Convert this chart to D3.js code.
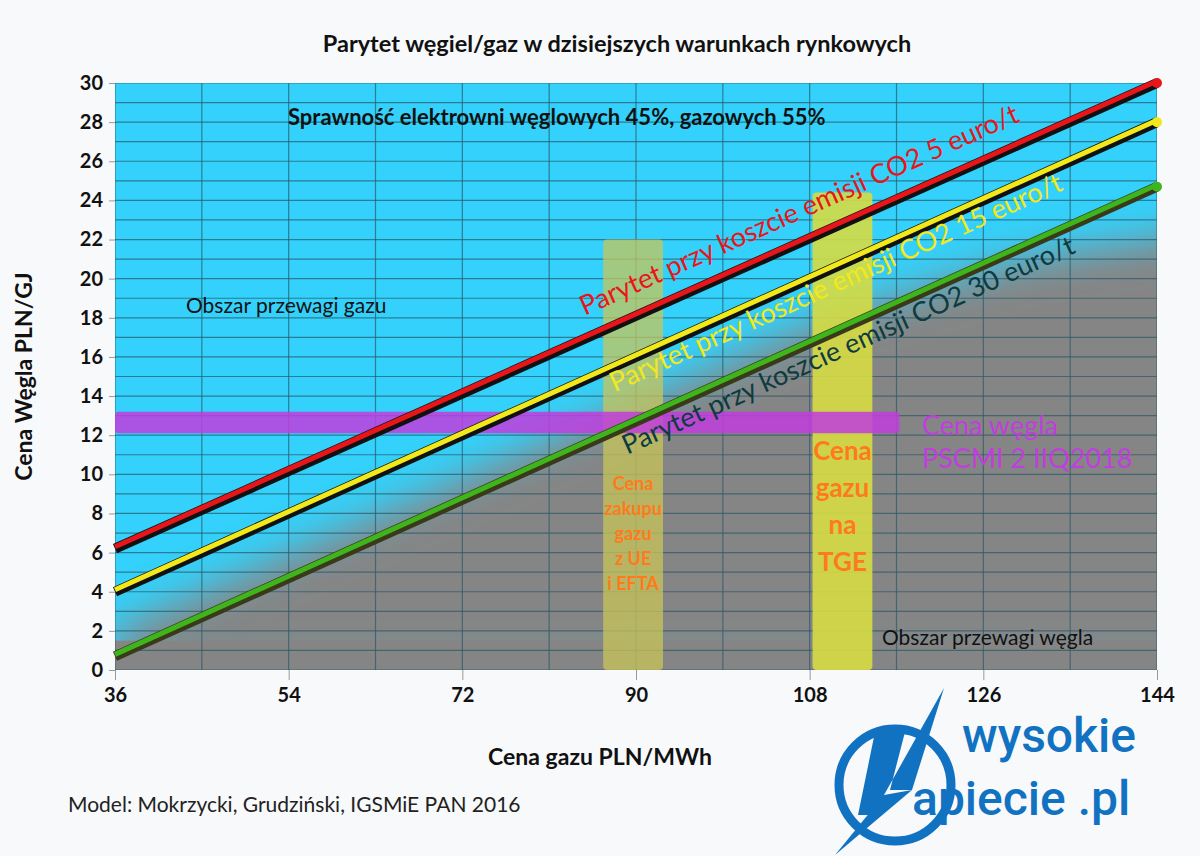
<!DOCTYPE html>
<html><head><meta charset="utf-8">
<script src="https://cdn.jsdelivr.net/npm/d3@7"></script>
<style>body{margin:0;background:#f8f9fb;font-family:Lato,"Open Sans",sans-serif}</style>
</head><body><svg id="c" width="1200" height="856"></svg>
<script>
// data
var xTicks = [36, 54, 72, 90, 108, 126, 144]
var yTicks = d3.range(0, 31, 2)
var lineNames = ['Parytet przy koszcie emisji CO2 5 euro/t', 'Parytet przy koszcie emisji CO2 15 euro/t', 'Parytet przy koszcie emisji CO2 30 euro/t']
var lineStart = [6.2, 4.0, 0.7]   // at 36 PLN/MWh
var lineEnd = [30, 28, 24.7]      // at 144 PLN/MWh
var lineColors = ['#e8161b', '#f2e81a', '#3fb51c']
var textColors = ['#e8161b', '#f2e81a', '#0e3b40']
var gasBands = [[86.6, 92.8, 22], [108.3, 114.5, 24.4]]
var coalBand = [36, 117.3, 12.1, 13.2]
var grayArea = [[36, 0], [36, 2.0], [80, 11.5], [110, 18.0], [130, 21.0], [150, 22.5], [150, 0]]

var svg = d3.select('#c')
var x = d3.scaleLinear().domain([36, 144]).range([115, 1157])
var y = d3.scaleLinear().domain([0, 30]).range([670, 83])

var defs = svg.append('defs')
defs.append('filter').attr('id', 'blur').attr('x', '-20%').attr('y', '-20%').attr('width', '140%').attr('height', '140%')
    .append('feGaussianBlur').attr('stdDeviation', 20)
defs.append('clipPath').attr('id', 'plot').append('rect')
    .attr('x', x(36)).attr('y', y(30)).attr('width', x(144) - x(36)).attr('height', y(0) - y(30))

var g = svg.append('g').attr('clip-path', 'url(#plot)')
g.append('rect').attr('x', x(36)).attr('y', y(30)).attr('width', x(144) - x(36)).attr('height', y(0) - y(30)).attr('fill', '#33d1fb')
g.append('path').datum(grayArea).attr('d', d3.line().x(d => x(d[0])).y(d => y(d[1])))
    .attr('fill', '#858585').attr('filter', 'url(#blur)')
g.append('rect').attr('x', x(36)).attr('y', y(1.5)).attr('width', x(144) - x(36)).attr('height', y(0) - y(1.5)).attr('fill', '#858585')

// grid
g.selectAll('.hg').data(d3.range(0, 31)).enter().append('line')
    .attr('x1', x(36)).attr('x2', x(144)).attr('y1', d => y(d)).attr('y2', d => y(d))
    .attr('stroke', '#2a5868').attr('stroke-opacity', 0.7).attr('stroke-width', 1.2)
g.selectAll('.vg').data(d3.range(36, 145, 9)).enter().append('line')
    .attr('y1', y(0)).attr('y2', y(30)).attr('x1', d => x(d)).attr('x2', d => x(d))
    .attr('stroke', '#2a5868').attr('stroke-opacity', 0.7).attr('stroke-width', 1.2)

// bands
g.selectAll('.gb').data(gasBands).enter().append('rect')
    .attr('x', d => x(d[0])).attr('width', d => x(d[1]) - x(d[0]))
    .attr('y', d => y(d[2])).attr('height', d => y(0) - y(d[2]))
    .attr('fill', (d, i) => i ? '#d6dc42' : '#c8c55a').attr('opacity', (d, i) => i ? 0.9 : 0.75).attr('rx', 4)
g.append('rect').attr('x', x(coalBand[0])).attr('width', x(coalBand[1]) - x(coalBand[0]))
    .attr('y', y(coalBand[3])).attr('height', y(coalBand[2]) - y(coalBand[3]))
    .attr('fill', '#c13ddd').attr('opacity', 0.85).attr('rx', 4)

// lines
var lines = d3.range(3).map(i => [[36, lineStart[i]], [144, lineEnd[i]]])
var lg = d3.line().x(d => x(d[0])).y(d => y(d[1]))
svg.selectAll('.lo').data(lines).enter().append('path').attr('d', lg)
    .attr('stroke', (d, i) => i == 2 ? '#3a3a1a' : '#111').attr('stroke-width', 10).attr('fill', 'none')
svg.selectAll('.li').data(lines).enter().append('path').attr('d', d => lg(d.map(p => [p[0], p[1] + 0.1])))
    .attr('stroke', (d, i) => lineColors[i]).attr('stroke-width', 5).attr('fill', 'none')
svg.selectAll('.dot').data(lines).enter().append('circle')
    .attr('cx', x(144)).attr('cy', d => y(d[1][1])).attr('r', 5).attr('fill', (d, i) => lineColors[i])

// line labels
var labelPos = [[84.7, 18.1], [87.8, 14.2], [89.1, 11.0]]
var ang = d => -Math.atan2(y(lineStart[d]) - y(lineEnd[d]), x(144) - x(36)) * 180 / Math.PI
svg.selectAll('.ll').data(lineNames).enter().append('text')
    .attr('transform', (d, i) => 'translate(' + x(labelPos[i][0]) + ',' + y(labelPos[i][1]) + ') rotate(' + ang(i) + ')')
    .attr('fill', (d, i) => textColors[i]).attr('font-size', 27).text(d => d)

// axes
var ya = svg.append('g').attr('transform', 'translate(' + x(36) + ',0)')
    .call(d3.axisLeft(y).tickValues(yTicks).tickSize(6).tickPadding(6))
ya.selectAll('text').attr('font-size', 20).attr('font-weight', 'bold').attr('fill', '#111').attr('font-family', 'Lato')
ya.select('.domain').remove()
ya.selectAll('line').attr('stroke', '#999')
var xa = svg.append('g').attr('transform', 'translate(0,' + y(0) + ')')
    .call(d3.axisBottom(x).tickValues(xTicks).tickSize(10).tickPadding(8))
xa.selectAll('text').attr('font-size', 20).attr('font-weight', 'bold').attr('fill', '#111').attr('font-family', 'Lato')
xa.select('.domain').remove()
xa.selectAll('line').attr('stroke', '#999')

// texts
function t(tx, ty, s, size, opts) {
    opts = opts || {}
    return svg.append('text').attr('x', tx).attr('y', ty).attr('font-size', size)
        .attr('font-weight', opts.w || 'normal').attr('fill', opts.c || '#111')
        .attr('text-anchor', opts.a || 'start').text(s)
}
t(617, 52, 'Parytet węgiel/gaz w dzisiejszych warunkach rynkowych', 23.5, {w: 'bold', a: 'middle'})
t(288, 125, 'Sprawność elektrowni węglowych 45%, gazowych 55%', 22, {w: 'bold'})
t(186, 313, 'Obszar przewagi gazu', 21)
t(882, 645, 'Obszar przewagi węgla', 21)
t(922, 435, 'Cena węgla', 27, {c: '#c13ddd'})
t(922, 468, 'PSCMI 2 IIQ2018', 27, {c: '#c13ddd'})
;['Cena', 'zakupu', 'gazu', 'z UE', 'i EFTA'].forEach((s, i) => t(x(89.7), 490 + i * 25, s, 18, {w: 'bold', c: '#ff7a1a', a: 'middle'}))
;['Cena', 'gazu', 'na', 'TGE'].forEach((s, i) => t(x(111.4), 460 + i * 37, s, 26, {w: 'bold', c: '#ff7a1a', a: 'middle'}))
t(600, 765, 'Cena gazu PLN/MWh', 23, {w: 'bold', a: 'middle'})
svg.append('text').attr('transform', 'translate(32,' + y(15) + ') rotate(-90)').attr('text-anchor', 'middle')
    .attr('font-size', 23).attr('font-weight', 'bold').attr('fill', '#111').text('Cena Węgla PLN/GJ')
t(68, 812, 'Model: Mokrzycki, Grudziński, IGSMiE PAN 2016', 21, {c: '#222'})

// logo
var lg2 = svg.append('g').attr('fill', '#1272c2')
lg2.append('circle').attr('cx', 895).attr('cy', 785).attr('r', 56).attr('fill', 'none').attr('stroke', '#1272c2').attr('stroke-width', 9)
lg2.append('path').attr('d', 'M944,688 L912,790 L890,790 L905,732 L875,732 L858,815 L878,815 L884,795 Z')
lg2.append('path').attr('d', 'M884,795 L912,790 L835,855 Z')
lg2.append('text').attr('x', 962).attr('y', 752).attr('font-size', 48).attr('font-family', 'Roboto').attr('font-weight', 500).text('wysokie')
lg2.append('text').attr('x', 912).attr('y', 815).attr('font-size', 48).attr('font-family', 'Roboto').attr('font-weight', 500).text('apiecie .pl')
</script></body></html>
